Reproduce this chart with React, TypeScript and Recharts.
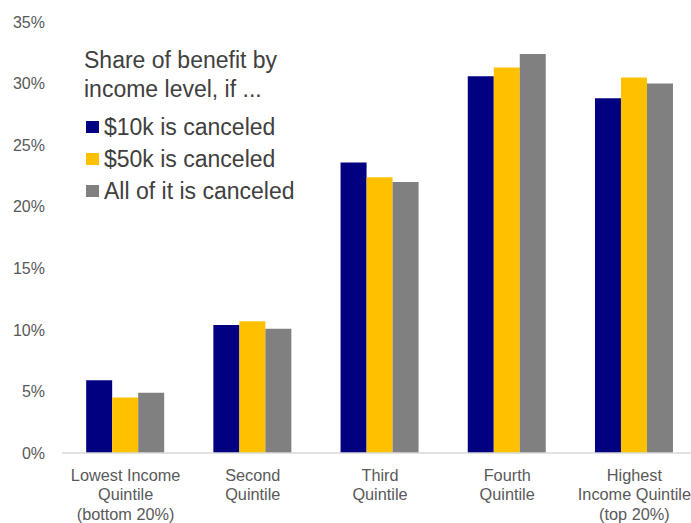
import React from 'react';
import { BarChart, Bar, XAxis, YAxis, Legend } from 'recharts';

const quintiles = [
  'Lowest Income\nQuintile\n(bottom 20%)',
  'Second\nQuintile',
  'Third\nQuintile',
  'Fourth\nQuintile',
  'Highest\nIncome Quintile\n(top 20%)',
];
const cancel10k = [5.9, 10.4, 23.6, 30.6, 28.8];
const cancel50k = [4.5, 10.7, 22.4, 31.3, 30.5];
const cancelAll = [4.9, 10.1, 22.0, 32.4, 30.0];
const yTicks = [0, 5, 10, 15, 20, 25, 30, 35];

const series = [
  { key: 'k10', name: '$10k is canceled', color: '#000080' },
  { key: 'k50', name: '$50k is canceled', color: '#FFC000' },
  { key: 'all', name: 'All of it is canceled', color: '#808080' },
];

const data = quintiles.map((q, i) => ({
  name: q,
  k10: cancel10k[i],
  k50: cancel50k[i],
  all: cancelAll[i],
}));

const FONT = '"Liberation Sans", Arial, sans-serif';

const XTick = (props: any) => {
  const { x, y, payload } = props;
  const lines = String(payload.value).split('\n');
  return (
    <text
      x={x}
      y={y}
      textAnchor="middle"
      fill="#595959"
      fontSize={16.3}
      fontFamily={FONT}
    >
      {lines.map((l, i) => (
        <tspan key={i} x={x} dy={i === 0 ? 11.5 : 19.5}>
          {l}
        </tspan>
      ))}
    </text>
  );
};

const LegendBox = () => (
  <div style={{ fontFamily: FONT, color: '#404040' }}>
    <div style={{ fontSize: 23, lineHeight: '29px' }}>
      Share of benefit by
      <br />
      income level, if ...
    </div>
    <div style={{ marginTop: 7 }}>
      {series.map((s) => (
        <div
          key={s.key}
          style={{
            display: 'flex',
            alignItems: 'center',
            fontSize: 23,
            lineHeight: '32px',
          }}
        >
          <span
            style={{
              display: 'inline-block',
              width: 13,
              height: 12,
              background: s.color,
              marginLeft: 2,
              marginRight: 5,
            }}
          />
          {s.name}
        </div>
      ))}
    </div>
  </div>
);

export default function App() {
  return (
    <div style={{ position: 'absolute', left: 0, top: 0, background: '#fff' }}>
      <BarChart
        width={700}
        height={523}
        data={data}
        margin={{ top: 22, right: 2, bottom: 0, left: 0 }}
        barCategoryGap="19%"
        barGap={0}
      >
        <XAxis
          dataKey="name"
          interval={0}
          height={70}
          tick={<XTick />}
          tickLine={false}
          tickSize={0}
          tickMargin={16}
          axisLine={{ stroke: '#d9d9d9', strokeWidth: 1.5 }}
        />
        <YAxis
          width={62}
          domain={[0, 35]}
          ticks={yTicks}
          tickFormatter={(v: number) => `${v}%`}
          axisLine={false}
          tickLine={false}
          tickSize={0}
          tickMargin={17}
          tick={{ fill: '#595959', fontSize: 16, fontFamily: FONT }}
        />
        <Legend
          layout="horizontal"
          align="center"
          verticalAlign="middle"
          content={<LegendBox />}
          wrapperStyle={{ top: 46, left: 84, width: 280 }}
        />
        {series.map((s) => (
          <Bar
            key={s.key}
            dataKey={s.key}
            name={s.name}
            fill={s.color}
            isAnimationActive={false}
          />
        ))}
      </BarChart>
    </div>
  );
}
